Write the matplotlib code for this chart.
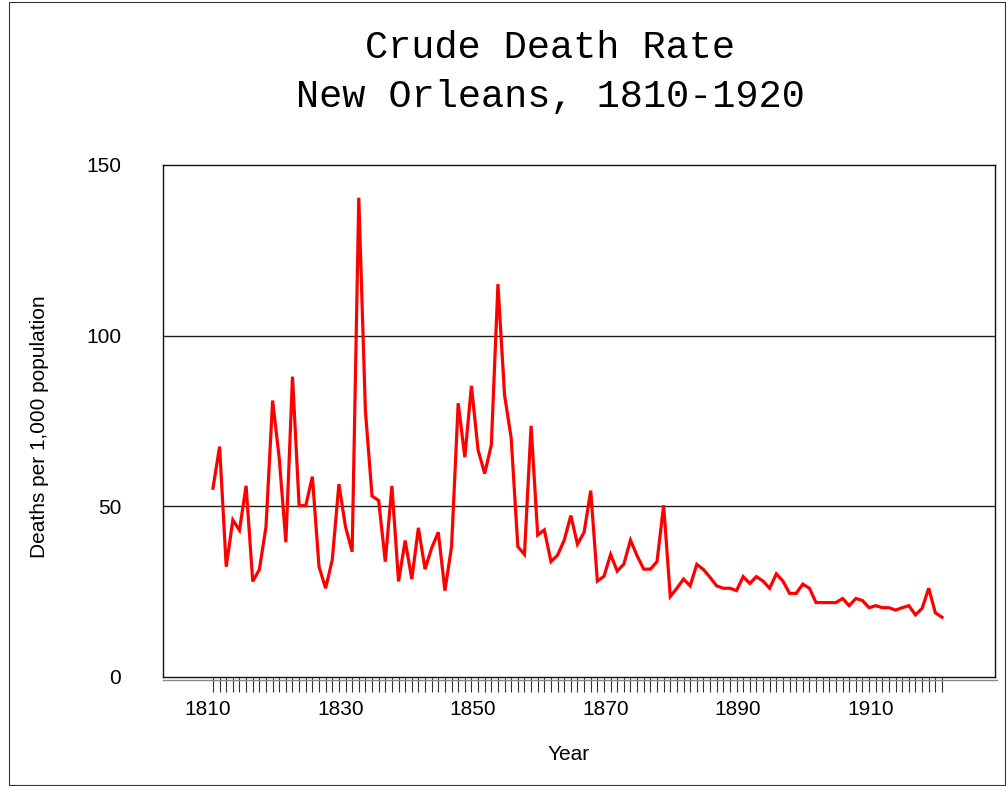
import matplotlib
matplotlib.use("Agg")
import matplotlib.pyplot as plt
from matplotlib.lines import Line2D
from matplotlib.patches import Rectangle
from matplotlib.transforms import ScaledTranslation

# crude death rate per 1,000, New Orleans
years = list(range(1810, 1921))
death_rate = [
    55.3, 67.5, 32.3, 46.0, 43.0, 56.0, 28.0, 31.5, 44.0, 81.0,     # 1810s
    64.0, 39.5, 88.0, 50.2, 50.2, 58.7, 32.3, 26.0, 34.3, 56.5,     # 1820s
    44.0, 36.7, 140.4, 78.0, 53.0, 51.7, 33.8, 56.0, 28.0, 40.0,    # 1830s
    28.7, 43.7, 31.6, 37.8, 42.4, 25.3, 38.2, 80.2, 64.4, 85.3,     # 1840s
    66.5, 59.6, 68.0, 115.1, 82.6, 69.9, 38.2, 35.9, 73.6, 41.6,    # 1850s
    43.1, 33.8, 35.7, 40.1, 47.3, 38.9, 42.4, 54.6, 28.1, 29.5,     # 1860s
    35.9, 31.0, 33.1, 40.1, 35.5, 31.6, 31.6, 33.8, 50.3, 23.6,     # 1870s
    26.0, 28.7, 26.7, 33.0, 31.5, 29.2, 26.7, 26.0, 26.0, 25.3,     # 1880s
    29.4, 27.4, 29.4, 28.1, 26.0, 30.2, 28.1, 24.5, 24.5, 27.2,     # 1890s
    26.0, 21.8, 21.8, 21.8, 21.8, 23.0, 20.9, 23.0, 22.4, 20.3,     # 1900s
    20.9, 20.3, 20.3, 19.6, 20.3, 20.9, 18.2, 20.1, 26.0, 18.8,     # 1910s
    17.5,                                                          # 1920
]
label_years = [1810, 1830, 1850, 1870, 1890, 1910]
y_ticks = [0, 50, 100, 150]

W, H = 1006, 786
fig = plt.figure(figsize=(W / 100, H / 100), dpi=100)
ax = fig.add_axes([163 / W, 1 - 677 / H, (995 - 163) / W, (677 - 165) / H])

ax.plot(years, death_rate, color="#ff0000", linewidth=2.3, solid_joinstyle="miter")

ax.set_xlim(1802.46, 1928.0)
ax.set_ylim(0, 150)

# every year gets a tick, only every 20th year gets a label
ax.set_xticks(years, labels=[str(y) if y in label_years else "" for y in years])
ax.tick_params(axis="x", direction="out", length=10.8, width=0.8, color="#333333",
               pad=6, labelsize=15)
for lab in ax.get_xticklabels():
    lab.set_fontfamily("Liberation Sans")
    lab.set_transform(lab.get_transform() + ScaledTranslation(-5 / 100, 0, fig.dpi_scale_trans))

ax.set_yticks(y_ticks)
ax.tick_params(axis="y", length=0, pad=30, labelsize=15)
for lab in ax.get_yticklabels():
    lab.set_fontfamily("Liberation Sans")

for v in [50, 100]:
    ax.axhline(v, color="#222222", linewidth=1.0, zorder=1)

for s in ax.spines.values():
    s.set_color("#111111")
    s.set_linewidth(1.0)

# grey shadow line under the x axis
fig.add_artist(Line2D([163 / W, 997 / W], [1 - 680 / H] * 2, color="#888888", linewidth=1.0))

# outer frame of the picture
fig.add_artist(Rectangle((8.5 / W, 1.5 / H), (1005 - 8.5) / W, (784 - 1.5) / H,
                         fill=False, edgecolor="#333333", linewidth=0.8))

fig.text(550 / W, 1 - 48 / H, "Crude Death Rate", family="Liberation Mono",
         fontsize=27.8, ha="center", va="center")
fig.text(550 / W, 1 - 97 / H, "New Orleans, 1810-1920", family="Liberation Mono",
         fontsize=27.8, ha="center", va="center")

fig.text(40 / W, 1 - 427 / H, "Deaths per 1,000 population", family="Liberation Sans",
         fontsize=15, rotation=90, ha="center", va="center")
fig.text(569 / W, 1 - 754 / H, "Year", family="Liberation Sans",
         fontsize=15, ha="center", va="center")

fig.savefig("out.png", dpi=100)
